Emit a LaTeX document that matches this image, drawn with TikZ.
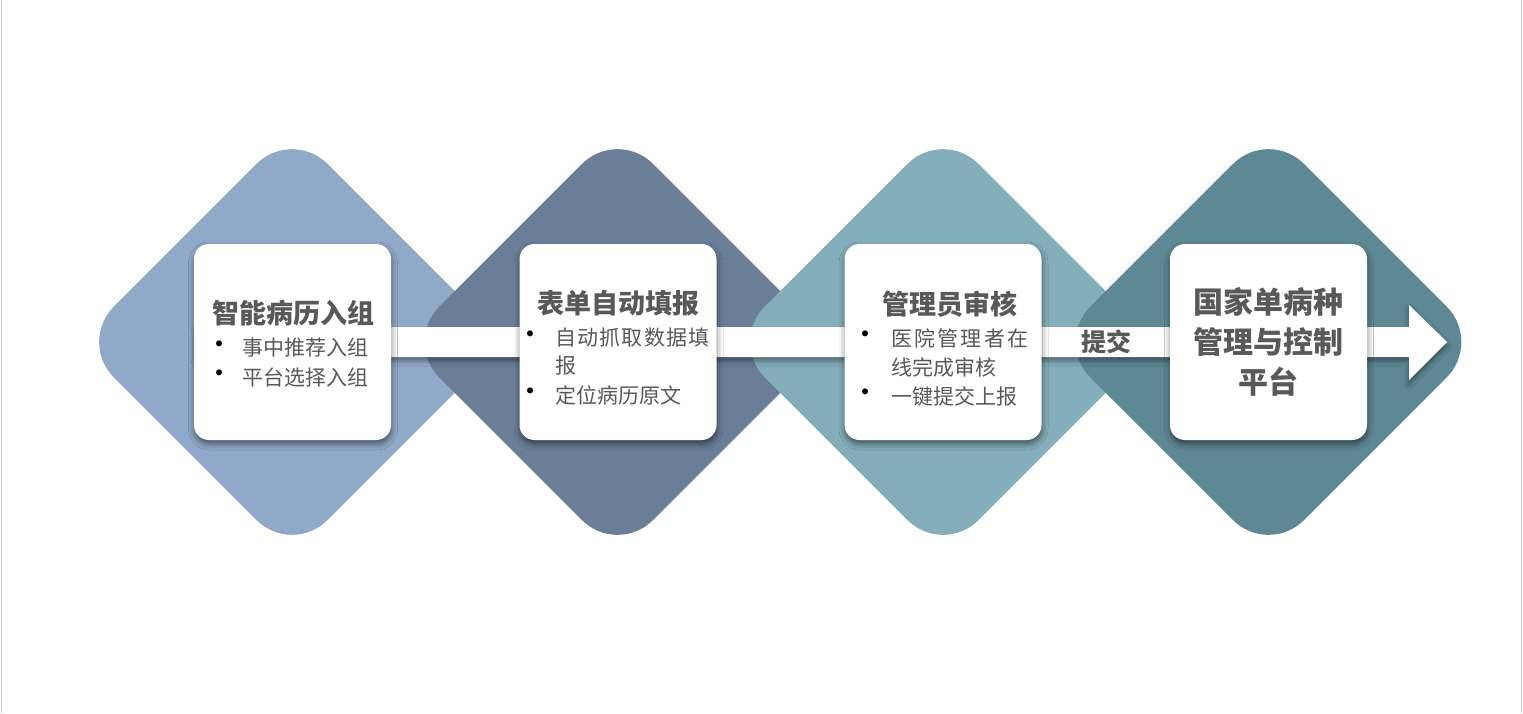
\documentclass[tikz,border=0pt]{standalone}
\usepackage{fontspec}
\setmainfont{Noto Sans CJK SC}
\usetikzlibrary{shadows.blur}
\definecolor{cA}{HTML}{91A9C8}
\definecolor{cB}{HTML}{6A7E98}
\definecolor{cC}{HTML}{84AEBA}
\definecolor{cD}{HTML}{5E8893}
\definecolor{txt}{HTML}{595959}
\definecolor{edge}{HTML}{C8C8C8}
\begin{document}
\begin{tikzpicture}[x=1pt,y=-1pt,
 dia/.style={rectangle, minimum size=302pt, rounded corners=50pt, rotate=45, inner sep=0pt, draw=none},
 card/.style={rectangle, minimum width=197pt, minimum height=196pt, rounded corners=15pt, fill=white, inner sep=0pt,
   blur shadow={shadow xshift=0.5pt, shadow yshift=-4pt, shadow blur radius=6pt, shadow opacity=50}},
 ttl/.style={font=\bfseries\fontsize{27}{30}\selectfont, text=txt, inner sep=0pt},
 itm/.style={font=\fontsize{21}{25}\selectfont, text=txt, inner sep=0pt, anchor=west},
 dotmark/.style={font=\fontsize{28}{30}\selectfont, text=black, inner sep=0pt},
 band/.style={fill=white, blur shadow={shadow xshift=0pt, shadow yshift=-4pt, shadow blur radius=5pt, shadow opacity=40}},
]
\fill[white] (0,0) rectangle (1523,713);
\useasboundingbox (0,0) rectangle (1523,713);
\draw[edge, line width=1.5pt] (1.5,0) -- (1.5,713);
\draw[edge, line width=1.5pt] (1521.5,0) -- (1521.5,713);

% diamonds
\node[dia, fill=cA] (d1) at (292,342) {};
\node[dia, fill=cB] (d2) at (617.5,342) {};
\node[dia, fill=cC] (d3) at (943,342) {};
\node[dia, fill=cD] (d4) at (1268.5,342) {};

% arrow band
\coordinate (bs) at (196,342);
\coordinate (tip) at (1447,342);
\path[band] (196,327) -- (1409,327) -- (1409,305) -- (tip) -- (1409,380) -- (1409,357) -- (196,357) -- cycle;

% cards
\node[card] (c1) at (292.5,342) {};
\node[card] (c2) at (618,342) {};
\node[card] (c3) at (943,342) {};
\node[card] (c4) at (1268.5,342) {};

% card 1
\node[ttl] (t1) at (293,313) {智能病历入组};
\node[dotmark] (b11) at (219,348) {•};
\node[itm] (i11) at (242,348) {事中推荐入组};
\node[dotmark] (b12) at (219,377) {•};
\node[itm] (i12) at (242,377) {平台选择入组};

% card 2
\node[ttl] (t2) at (618,303) {表单自动填报};
\node[dotmark] (b21) at (530,338) {•};
\node[itm] (i21) at (555,338) {\addfontfeature{LetterSpace=6}自动抓取数据填};
\node[itm] (i22) at (555,366) {报};
\node[dotmark] (b22) at (530,395) {•};
\node[itm] (i23) at (555,395) {定位病历原文};

% card 3
\node[ttl] (t3) at (950,304) {管理员审核};
\node[dotmark] (b31) at (865,338) {•};
\node[itm] (i31) at (891,338) {\addfontfeature{LetterSpace=10.5}医院管理者在};
\node[itm] (i32) at (891,367) {线完成审核};
\node[dotmark] (b32) at (865,396) {•};
\node[itm] (i33) at (891,396) {一键提交上报};

% card 4
\node[font=\bfseries\fontsize{30}{40}\selectfont, text=txt, inner sep=0pt, align=center] (t4) at (1268.5,342) {国家单病种\\管理与控制\\平台};

% band label
\node[font=\bfseries\fontsize{25}{28}\selectfont, text=txt, inner sep=0pt] (sub) at (1106,342) {提交};
\end{tikzpicture}
\end{document}
